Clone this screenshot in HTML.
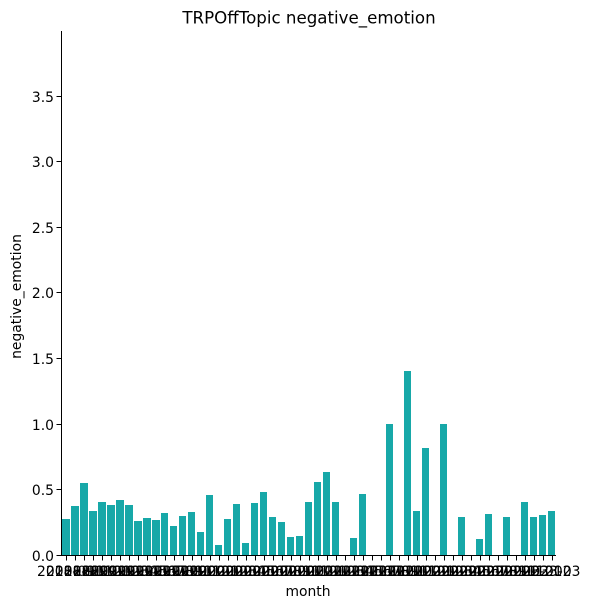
<!DOCTYPE html>
<html lang="en">
<head>
<meta charset="utf-8">
<title>TRPOffTopic negative_emotion</title>
<style>
html,body{margin:0;padding:0;background:#fff;}
#chart{display:block;width:590px;height:608px;}
text{font-family:"DejaVu Sans","Liberation Sans",sans-serif;fill:#000;}
</style>
</head>
<body>
<svg id="chart" xmlns="http://www.w3.org/2000/svg" width="590" height="608" viewBox="0 0 590 608">
  <rect x="0" y="0" width="590" height="608" fill="#ffffff"/>
  <text x="309" y="23.5" font-size="16.67" text-anchor="middle">TRPOffTopic negative_emotion</text>
  <text x="0" y="0" font-size="13.89" text-anchor="middle" transform="translate(21 296.5) rotate(-90)">negative_emotion</text>
  <text x="308" y="596" font-size="13.89" text-anchor="middle">month</text>
  <g id="bars"></g>
  <g id="x-ticks"></g>
  <g id="y-ticks"></g>
  <line x1="61.5" y1="31" x2="61.5" y2="556" stroke="#000" stroke-width="1" shape-rendering="crispEdges"/>
  <line x1="61" y1="555.5" x2="556" y2="555.5" stroke="#000" stroke-width="1" shape-rendering="crispEdges"/>
</svg>
<script>
const months = ["2018-09","2018-10","2018-11","2018-12","2019-01","2019-02","2019-03","2019-04","2019-05","2019-06","2019-07","2019-08","2019-09","2019-10","2019-11","2019-12","2020-01","2020-02","2020-03","2020-04","2020-05","2020-06","2020-07","2020-08","2020-09","2020-10","2020-11","2020-12","2021-01","2021-02","2021-03","2021-04","2021-05","2021-06","2021-07","2021-08","2021-09","2021-10","2021-11","2021-12","2022-01","2022-02","2022-03","2022-04","2022-05","2022-06","2022-07","2022-08","2022-09","2022-10","2022-11","2022-12","2023-01","2023-02","2023-03"];
const negativeEmotion = [0.275,0.374,0.55,0.336,0.405,0.382,0.42,0.382,0.26,0.282,0.267,0.32,0.221,0.298,0.328,0.176,0.458,0.076,0.275,0.389,0.092,0.397,0.481,0.29,0.252,0.137,0.145,0.405,0.557,0.634,0.405,0,0.13,0.466,0,0,1.0,0,1.405,0.336,0.82,0,1.0,0,0.29,0,0.122,0.313,0,0.29,0,0.405,0.29,0.305,0.336];
const yTickValues = [0,0.5,1,1.5,2,2.5,3,3.5];
const yTickLabels = ["0.0","0.5","1.0","1.5","2.0","2.5","3.0","3.5"];

const SVG_NS = "http://www.w3.org/2000/svg";
const plot = {left:61.5, right:556, base:555.2, unit:131.2, barFloor:555};
const band = (plot.right - plot.left) / months.length;
function xCenter(i){ return plot.left + band * (i + 0.5); }
function yScale(v){ return plot.base - plot.unit * v; }
function make(tag, attrs, parent){
  const el = document.createElementNS(SVG_NS, tag);
  for (const k in attrs) el.setAttribute(k, attrs[k]);
  parent.appendChild(el);
  return el;
}

const barsG = document.getElementById("bars");
const xG = document.getElementById("x-ticks");
const yG = document.getElementById("y-ticks");

negativeEmotion.forEach(function(v, i){
  const c = xCenter(i);
  const x0 = Math.round(c - band * 0.4);
  const x1 = Math.round(c + band * 0.4);
  const top = Math.round(yScale(v));
  const bar = make("rect", {x:x0, y:top, width:x1 - x0, height:Math.max(0, plot.barFloor - top), fill:"#17a8a8", "shape-rendering":"crispEdges"}, barsG);
  
  
});

months.forEach(function(m, i){
  const c = Math.round(xCenter(i)) + 0.5;
  const tick = make("line", {x1:c, x2:c, y1:555.5, y2:560.5, stroke:"#000", "stroke-width":1, "shape-rendering":"crispEdges"}, xG);
  
  
  const label = make("text", {x:xCenter(i), y:576, "font-size":13.89, "text-anchor":"middle"}, xG);
  label.textContent = m;
  
  
});

yTickValues.forEach(function(v, i){
  const py = Math.floor(yScale(v));
  const y = py + 0.5;
  const tick = make("line", {x1:plot.left - 5, x2:plot.left, y1:y, y2:y, stroke:"#000", "stroke-width":1, "shape-rendering":"crispEdges"}, yG);
  
  
  const label = make("text", {x:54, y:py + 6, "font-size":13.89, "text-anchor":"end"}, yG);
  label.textContent = yTickLabels[i];
  
  
});
</script>
</body>
</html>
